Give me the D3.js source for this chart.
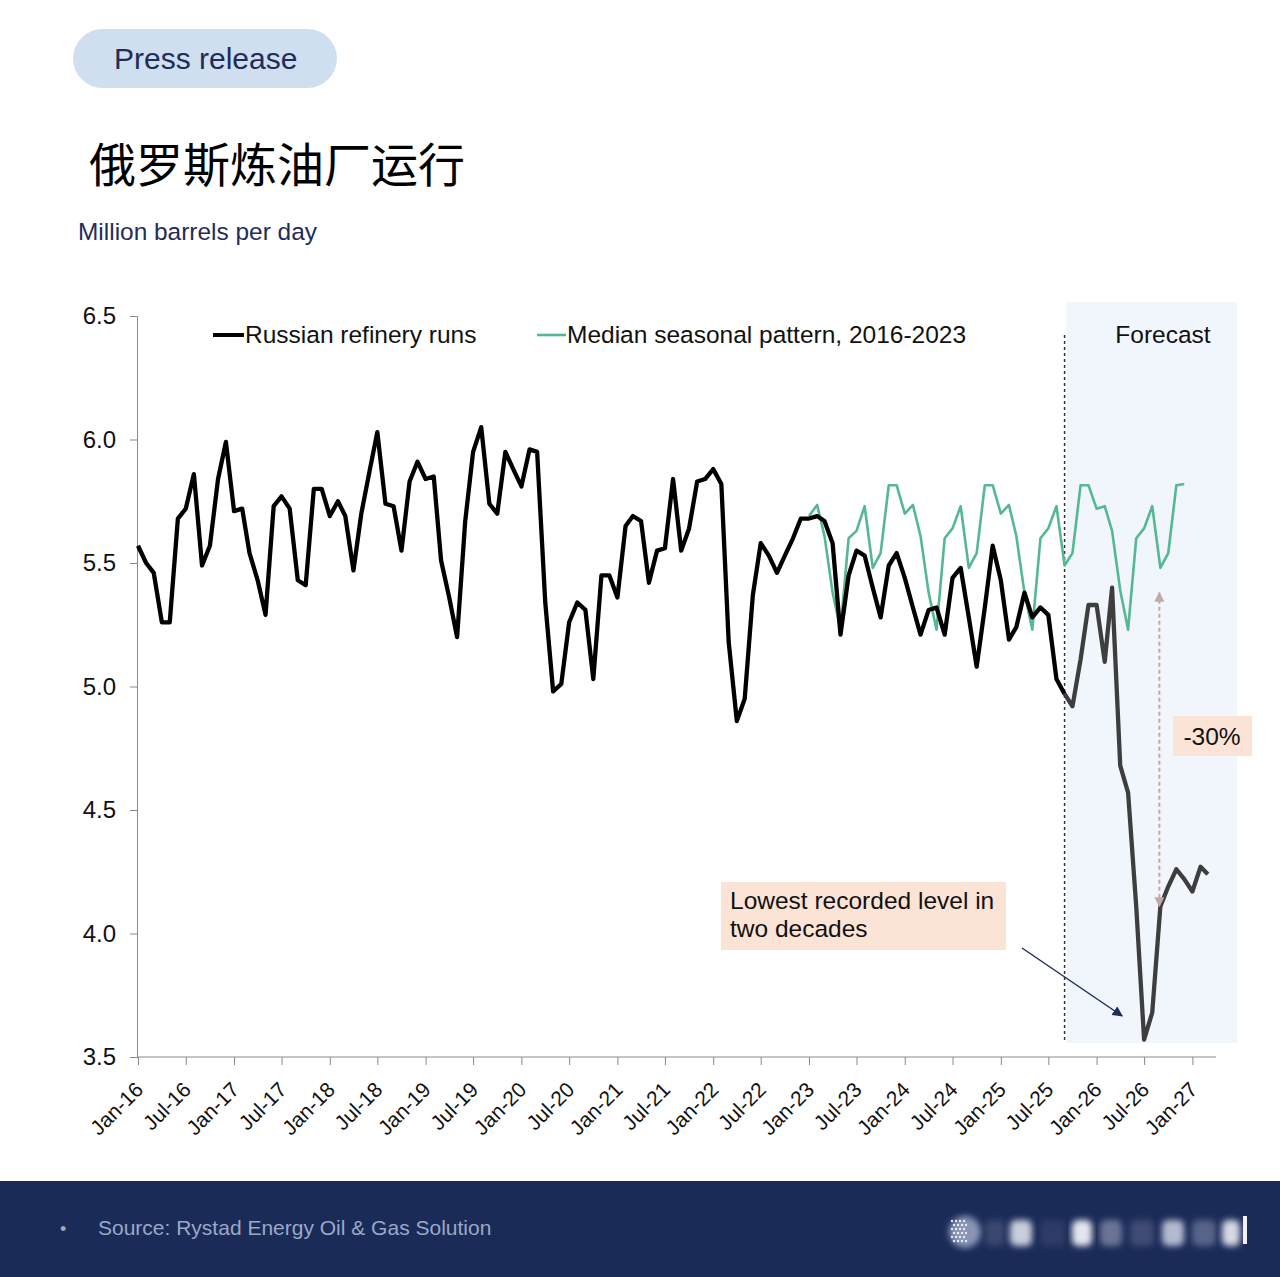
<!DOCTYPE html>
<html>
<head>
<meta charset="utf-8">
<script src="https://cdn.jsdelivr.net/npm/d3@7"></script>
<style>
    html, body { margin: 0; padding: 0; background: #fff; }
    svg { display: block; font-family: "Liberation Sans", Arial, sans-serif; }
</style>
</head>
<body>
<svg id="chart" width="1280" height="1277"></svg>
<script>
// Russian refinery runs, million b/d, monthly from Jan-16 (actual to Sep-25, then forecast)
var runsActual = [
    5.57, 5.50, 5.46, 5.26, 5.26, 5.68, 5.72, 5.86, 5.49, 5.57, 5.84, 5.99,
    5.71, 5.72, 5.54, 5.43, 5.29, 5.73, 5.77, 5.72, 5.43, 5.41, 5.80, 5.80,
    5.69, 5.75, 5.69, 5.47, 5.70, 5.87, 6.03, 5.74, 5.73, 5.55, 5.83, 5.91,
    5.84, 5.85, 5.51, 5.36, 5.20, 5.67, 5.95, 6.05, 5.74, 5.70, 5.95, 5.88,
    5.81, 5.96, 5.95, 5.34, 4.98, 5.01, 5.26, 5.34, 5.31, 5.03, 5.45, 5.45,
    5.36, 5.65, 5.69, 5.67, 5.42, 5.55, 5.56, 5.84, 5.55, 5.64, 5.83, 5.84,
    5.88, 5.82, 5.18, 4.86, 4.95, 5.37, 5.58, 5.53, 5.46, 5.53, 5.60, 5.68,
    5.68, 5.69, 5.67, 5.58, 5.21, 5.45, 5.55, 5.53, 5.40, 5.28, 5.49, 5.54,
    5.44, 5.32, 5.21, 5.31, 5.32, 5.21, 5.44, 5.48, 5.28, 5.08, 5.32, 5.57,
    5.43, 5.19, 5.24, 5.38, 5.28, 5.32, 5.29, 5.03, 4.97
];
// forecast starts at Sep-25 (repeats the last actual point so the lines join)
var runsForecast = [
    4.97, 4.92, 5.11, 5.33, 5.33, 5.10, 5.40, 4.68, 4.57, 4.11, 3.57, 3.68,
    4.11, 4.19, 4.26, 4.22, 4.17, 4.27, 4.24
];
// median seasonal pattern 2016-2023, shown Jan-23 .. Dec-26
var seasonal = [
    5.69, 5.735, 5.61, 5.38, 5.23, 5.60, 5.63, 5.73, 5.48, 5.54, 5.815, 5.815,
    5.70, 5.735, 5.61, 5.38, 5.23, 5.60, 5.64, 5.73, 5.48, 5.54, 5.815, 5.815,
    5.70, 5.735, 5.61, 5.38, 5.23, 5.60, 5.64, 5.73, 5.49, 5.54, 5.815, 5.815,
    5.72, 5.73, 5.63, 5.39, 5.23, 5.60, 5.64, 5.73, 5.48, 5.54, 5.815, 5.82
];
var yTicks = [3.5, 4.0, 4.5, 5.0, 5.5, 6.0, 6.5];
var tickMonths = ['Jan-16', 'Jul-16', 'Jan-17', 'Jul-17', 'Jan-18', 'Jul-18', 'Jan-19', 'Jul-19',
    'Jan-20', 'Jul-20', 'Jan-21', 'Jul-21', 'Jan-22', 'Jul-22', 'Jan-23', 'Jul-23',
    'Jan-24', 'Jul-24', 'Jan-25', 'Jul-25', 'Jan-26', 'Jul-26', 'Jan-27'];

var seriesNames = ['Russian refinery runs', 'Median seasonal pattern, 2016-2023'];

var parseMonth = d3.timeParse('%b-%y');
var start = new Date(2016, 0, 1);
function monthDate(i) { return d3.timeMonth.offset(start, i); }

var svg = d3.select('#chart');
var navy = '#1f2d58';
var green = '#55b892';
var peach = '#fbe4d5';
var labelSize = 24.5;

var x = d3.scaleTime()
    .domain([start, new Date(2027, 3, 1)])
    .range([138, 1216]);
var y = d3.scaleLinear()
    .domain([3.5, 6.5])
    .range([1057, 316]);

// ---- header ----
svg.append('rect')
    .attr('x', 73).attr('y', 29).attr('width', 264).attr('height', 59)
    .attr('rx', 29.5).attr('fill', '#cfdff0');
svg.append('text')
    .attr('x', 114).attr('y', 69)
    .attr('font-size', 30).attr('fill', navy)
    .text('Press release');
svg.append('text')
    .attr('x', 89).attr('y', 182)
    .attr('font-family', '"Noto Sans CJK SC", sans-serif')
    .attr('font-size', 47).attr('fill', '#000')
    .text('俄罗斯炼油厂运行');
svg.append('text')
    .attr('x', 78).attr('y', 240)
    .attr('font-size', labelSize).attr('fill', navy)
    .attr('textLength', 239).attr('lengthAdjust', 'spacingAndGlyphs')
    .text('Million barrels per day');

// ---- forecast shading ----
var fcStart = monthDate(116);
svg.append('rect')
    .attr('x', x(fcStart) + 2).attr('y', 302)
    .attr('width', 1237 - x(fcStart) - 2).attr('height', 741)
    .attr('fill', '#f1f6fc');
svg.append('line')
    .attr('x1', x(fcStart)).attr('x2', x(fcStart))
    .attr('y1', 335).attr('y2', 1043)
    .attr('stroke', '#333').attr('stroke-width', 1.5)
    .attr('stroke-dasharray', '3,3');
svg.append('text')
    .attr('x', 1163).attr('y', 343)
    .attr('text-anchor', 'middle')
    .attr('font-size', labelSize).attr('fill', '#111')
    .text('Forecast');

// ---- axes ----
var yAxis = svg.append('g')
    .attr('transform', 'translate(137,0)')
    .call(d3.axisLeft(y).tickValues(yTicks).tickFormat(d3.format('.1f')).tickSizeOuter(0).tickSize(7).tickPadding(14));
yAxis.select('.domain').attr('stroke', '#8a8a8a');
yAxis.selectAll('.tick line').attr('stroke', '#8a8a8a');
yAxis.selectAll('.tick text')
    .attr('font-family', '"Liberation Sans", Arial, sans-serif')
    .attr('font-size', 24).attr('fill', '#111');

var xAxis = svg.append('g')
    .attr('transform', 'translate(0,1057)')
    .call(d3.axisBottom(x)
        .tickValues(tickMonths.map(parseMonth))
        .tickFormat(d3.timeFormat('%b-%y'))
        .tickSizeOuter(0).tickSize(8));
xAxis.select('.domain').attr('stroke', '#8a8a8a').attr('d', 'M137,0H1216');
xAxis.selectAll('.tick line').attr('stroke', '#8a8a8a');
xAxis.selectAll('.tick text')
    .attr('font-family', '"Liberation Sans", Arial, sans-serif')
    .attr('font-size', 21).attr('fill', '#111')
    .attr('text-anchor', 'end')
    .attr('dy', 0).attr('y', 0)
    .attr('transform', 'translate(6,34) rotate(-45)');

// ---- lines ----
var line = d3.line()
    .x(function (d) { return x(d.date); })
    .y(function (d) { return y(d.value); });

function toPoints(values, offset) {
    return values.map(function (v, i) { return { date: monthDate(offset + i), value: v }; });
}

svg.append('path')
    .datum(toPoints(seasonal, 84))
    .attr('d', line)
    .attr('fill', 'none').attr('stroke', green).attr('stroke-width', 2.6)
    .attr('stroke-linejoin', 'round');
svg.append('path')
    .datum(toPoints(runsActual, 0))
    .attr('d', line)
    .attr('fill', 'none').attr('stroke', '#000').attr('stroke-width', 4.3)
    .attr('stroke-linejoin', 'round');
svg.append('path')
    .datum(toPoints(runsForecast, 116))
    .attr('d', line)
    .attr('fill', 'none').attr('stroke', '#3e3e3e').attr('stroke-width', 4.3)
    .attr('stroke-linejoin', 'round');

// ---- legend ----
var legend = svg.append('g');
legend.append('line').attr('x1', 213).attr('x2', 244).attr('y1', 335).attr('y2', 335)
    .attr('stroke', '#000').attr('stroke-width', 4);
legend.append('text').attr('x', 245).attr('y', 343).attr('font-size', labelSize).attr('fill', '#111')
    .text(seriesNames[0]);
legend.append('line').attr('x1', 537).attr('x2', 566).attr('y1', 335).attr('y2', 335)
    .attr('stroke', green).attr('stroke-width', 2.6);
legend.append('text').attr('x', 567).attr('y', 343).attr('font-size', labelSize).attr('fill', '#111')
    .text(seriesNames[1]);

// ---- annotations ----
var defs = svg.append('defs');
defs.append('marker').attr('id', 'arrNavy')
    .attr('viewBox', '0 0 10 10').attr('refX', 9).attr('refY', 5)
    .attr('markerWidth', 7).attr('markerHeight', 7).attr('orient', 'auto')
    .append('path').attr('d', 'M0,0L10,5L0,10z').attr('fill', navy);
defs.append('marker').attr('id', 'arrGrey')
    .attr('viewBox', '0 0 10 10').attr('refX', 9).attr('refY', 5)
    .attr('markerWidth', 5).attr('markerHeight', 5).attr('orient', 'auto-start-reverse')
    .append('path').attr('d', 'M0,0L10,5L0,10z').attr('fill', '#c2a9a4');

// -30% gap between seasonal pattern and forecast
var gapX = x(monthDate(128)) - 1;
svg.append('line')
    .attr('x1', gapX).attr('x2', gapX)
    .attr('y1', y(5.38)).attr('y2', y(4.11))
    .attr('stroke', '#c2a9a4').attr('stroke-width', 2)
    .attr('stroke-dasharray', '4,3')
    .attr('marker-start', 'url(#arrGrey)').attr('marker-end', 'url(#arrGrey)');
svg.append('rect').attr('x', 1173).attr('y', 716).attr('width', 79).attr('height', 40).attr('fill', peach);
svg.append('text').attr('x', 1212).attr('y', 745).attr('text-anchor', 'middle')
    .attr('font-size', labelSize).attr('fill', '#111').text('-30%');

svg.append('rect').attr('x', 721).attr('y', 882).attr('width', 285).attr('height', 68).attr('fill', peach);
svg.append('text').attr('x', 730).attr('y', 909).attr('font-size', labelSize).attr('fill', '#111')
    .text('Lowest recorded level in');
svg.append('text').attr('x', 730).attr('y', 937).attr('font-size', labelSize).attr('fill', '#111')
    .text('two decades');
svg.append('line')
    .attr('x1', 1022).attr('y1', 948).attr('x2', x(monthDate(126)) - 22).attr('y2', 1016)
    .attr('stroke', navy).attr('stroke-width', 1.5)
    .attr('marker-end', 'url(#arrNavy)');

// ---- footer ----
svg.append('rect').attr('x', 0).attr('y', 1181).attr('width', 1280).attr('height', 96).attr('fill', '#1b2b58');
svg.append('text').attr('x', 60).attr('y', 1235).attr('font-size', 18).attr('fill', '#9aa8c6').text('•');
svg.append('text').attr('x', 98).attr('y', 1235).attr('font-size', 21).attr('fill', '#9aa8c6')
    .text('Source: Rystad Energy Oil & Gas Solution');

// blurred logo area
var blur = defs.append('filter').attr('id', 'blur').attr('x', '-20%').attr('y', '-50%')
    .attr('width', '140%').attr('height', '200%');
blur.append('feGaussianBlur').attr('stdDeviation', 3);
var logo = svg.append('g');
logo.append('circle').attr('cx', 965).attr('cy', 1232).attr('r', 16).attr('fill', '#8a95b5').attr('filter', 'url(#blur)');
d3.range(0, 6).forEach(function (i) {
    d3.range(0, 4).forEach(function (j) {
        logo.append('circle')
            .attr('cx', 952 + j * 4 + (i % 2) * 2).attr('cy', 1221 + i * 4)
            .attr('r', 1.2).attr('fill', '#e8ecf5');
    });
});
var blobs = [[985, 20, '#3a4670'], [1010, 22, '#c8cedc'], [1040, 26, '#2d3a66'], [1072, 20, '#e3e6ee'],
    [1100, 22, '#6a7596'], [1130, 24, '#404c76'], [1162, 22, '#b3bad0'], [1192, 24, '#58648a'], [1222, 18, '#d5d9e4']];
blobs.forEach(function (b) {
    logo.append('rect').attr('x', b[0]).attr('y', 1220).attr('width', b[1]).attr('height', 26)
        .attr('rx', 6).attr('fill', b[2]).attr('filter', 'url(#blur)');
});
logo.append('rect').attr('x', 1243).attr('y', 1216).attr('width', 4).attr('height', 28).attr('fill', '#f0f2f7');
</script>
</body>
</html>
